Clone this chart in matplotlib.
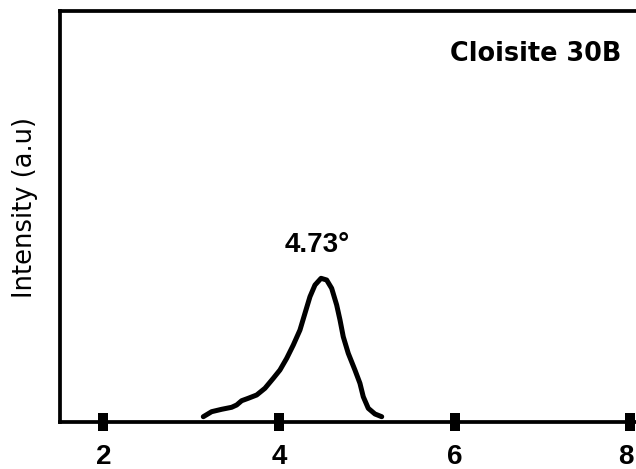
import matplotlib
matplotlib.use("Agg")
import matplotlib.pyplot as plt
import matplotlib.transforms as mtransforms

# 2-theta (degrees) and intensity (a.u.) of the Cloisite 30B basal reflection
two_theta = [3.137, 3.232, 3.346, 3.460, 3.517, 3.574, 3.649, 3.745, 3.839,
             3.934, 4.010, 4.087, 4.162, 4.238, 4.295, 4.352, 4.409, 4.478,
             4.542, 4.599, 4.656, 4.694, 4.731, 4.788, 4.864, 4.921, 4.959,
             5.016, 5.092, 5.169]
intensity = [1.29, 2.51, 3.09, 3.58, 4.14, 5.18, 5.77, 6.57, 8.20,
             10.63, 12.65, 15.50, 18.73, 22.38, 26.45, 30.49, 33.33, 34.96,
             34.55, 32.53, 28.47, 24.82, 20.75, 16.71, 12.65, 9.42, 6.15,
             3.33, 1.95, 1.29]
x_ticks = [2, 4, 6, 8]
tick_labels = ["2", "4", "6", "8"]
sample_name = "Cloisite 30B"
peak_label = "4.73°"
y_label = "Intensity (a.u)"

W, H = 636, 469
fig = plt.figure(figsize=(W / 100, H / 100), dpi=100)
fig.patch.set_facecolor("white")

# axes box in pixels: left spine at 60, bottom at 422, top at 11; runs past right edge
left_px, bottom_px, top_px, right_px = 60, 422, 11, 700
ax = fig.add_axes([left_px / W, (H - bottom_px) / H,
                   (right_px - left_px) / W, (bottom_px - top_px) / H])

ax.plot(two_theta, intensity, color="black", lw=3.6, solid_capstyle="round",
        solid_joinstyle="round")

ax.set_xlim(1.505, 8.794)
ax.set_ylim(0, 100)

for side in ("left", "bottom", "top"):
    ax.spines[side].set_linewidth(2.7)
    ax.spines[side].set_color("black")
ax.spines["right"].set_visible(False)

arial_bold = dict(family="Liberation Sans", weight="bold")
ax.set_xticks(x_ticks)
ax.set_xticklabels(tick_labels, fontsize=20, **arial_bold)
ax.tick_params(axis="x", direction="inout", length=13, width=7.2, pad=9.5,
               color="black")
ax.set_yticks([])

# nudge the last tick label inward so it stays inside the figure edge
last = ax.xaxis.get_major_ticks()[-1].label1
last.set_transform(last.get_transform()
                   + mtransforms.ScaledTranslation(-4 / 100, 0, fig.dpi_scale_trans))

ax.text(4.067, 41.36, peak_label, ha="left", va="baseline", fontsize=20,
        **arial_bold)
ax.text(5.95, 87.83, sample_name, ha="left", va="baseline", fontsize=18.4,
        family="DejaVu Sans", weight="bold")

fig.text(25 / W, (H - 207.5) / H, y_label, rotation=90, ha="center",
         va="center", fontsize=18.5, family="DejaVu Sans")

fig.savefig("out.png", dpi=100, facecolor="white")
